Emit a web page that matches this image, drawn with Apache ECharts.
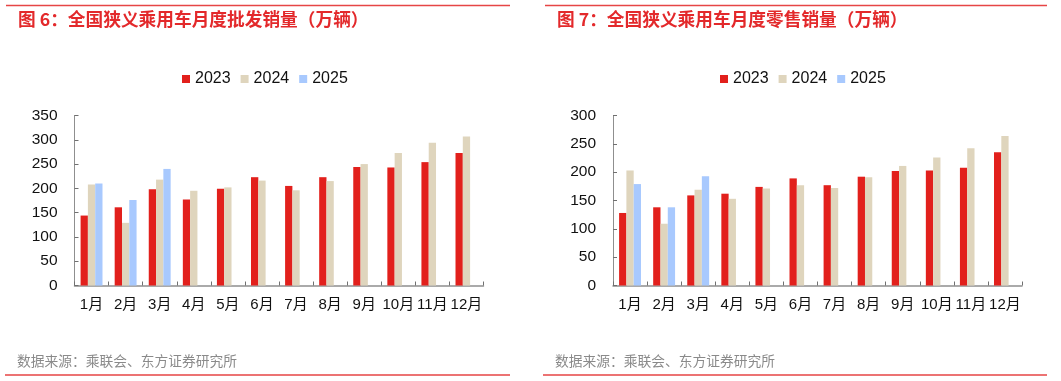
<!DOCTYPE html>
<html>
<head>
<meta charset="utf-8">
<script src="https://cdn.jsdelivr.net/npm/echarts@6/dist/echarts.min.js"></script>
<style>
html,body{margin:0;padding:0;background:#fff;}
#c{width:1061px;height:381px;}
</style>
</head>
<body>
<div id="c"></div>
<script>
const months = ['1月','2月','3月','4月','5月','6月','7月','8月','9月','10月','11月','12月'];
const yTicks = { wholesaleMax: 350, retailMax: 300, step: 50 };
const seriesNames = ['2023','2024','2025'];

// 批发销量 (万辆)
const wholesale2023 = [144, 161, 198, 177, 199, 223, 205, 223, 244, 243, 254, 273];
const wholesale2024 = [208, 129, 218, 195, 202, 216, 196, 215, 250, 273, 294, 307];
const wholesale2025 = [210, 176, 240, null, null, null, null, null, null, null, null, null];

// 零售销量 (万辆)
const retail2023 = [128, 138, 159, 162, 174, 189, 177, 192, 202, 203, 208, 235];
const retail2024 = [203, 109, 169, 153, 171, 177, 172, 191, 211, 226, 242, 264];
const retail2025 = [179, 138, 193, null, null, null, null, null, null, null, null, null];

const titleLeft = '图 6：全国狭义乘用车月度批发销量（万辆）';
const titleRight = '图 7：全国狭义乘用车月度零售销量（万辆）';
const sourceText = '数据来源：乘联会、东方证券研究所';

const colors = ['#E2201C', '#DFD5BD', '#A8C9FE'];
const FONT = '"Liberation Sans", Arial, "Noto Sans CJK SC", sans-serif';
const CJK = '"Noto Sans CJK SC", "Liberation Sans", sans-serif';

function xAx(gi) {
  return {
    type: 'category', gridIndex: gi, data: months, boundaryGap: true,
    axisLine: { lineStyle: { color: '#8f8f8f', width: 1.5 } },
    axisTick: { show: true, inside: true, length: 4, lineStyle: { color: '#707070' } },
    axisLabel: { color: '#111', fontSize: 15, fontFamily: FONT, margin: 12, interval: 0 },
    splitLine: { show: false }
  };
}
function yAx(gi, max) {
  return {
    type: 'value', gridIndex: gi, min: 0, max: max, interval: yTicks.step,
    axisLine: { show: true, lineStyle: { color: '#8f8f8f', width: 1 } },
    axisTick: { show: true, inside: true, length: 4, lineStyle: { color: '#707070' } },
    axisLabel: { color: '#111', fontSize: 15.5, fontFamily: FONT, margin: 17 },
    splitLine: { show: false }
  };
}
function bars(gi, arrs) {
  return arrs.map((d, i) => ({
    name: seriesNames[i], type: 'bar', xAxisIndex: gi, yAxisIndex: gi,
    data: d, barWidth: 7.3, barGap: '0%',
    itemStyle: { color: colors[i] }, emphasis: { disabled: true }
  }));
}
function legend(left) {
  return {
    left: left, top: 71, padding: 0, data: seriesNames, itemWidth: 8, itemHeight: 8, itemGap: 10,
    icon: 'rect', textStyle: { fontSize: 16, color: '#111', fontFamily: FONT }
  };
}
function ttl(text, left, top, size, color, weight) {
  return { text: text, left: left, top: top, padding: 0,
    textStyle: { color: color, fontSize: size, fontWeight: weight, fontFamily: CJK } };
}

const chart = echarts.init(document.getElementById('c'), null, { renderer: 'canvas' });
chart.setOption({
  animation: false,
  backgroundColor: '#fff',
  color: colors,
  title: [
    ttl(titleLeft, 18, 10, 17.7, '#E3292B', 'bold'),
    ttl(titleRight, 557, 10, 17.7, '#E3292B', 'bold'),
    ttl(sourceText, 17, 354, 13.75, '#8a8a8a', 'normal'),
    ttl(sourceText, 555, 354, 13.75, '#8a8a8a', 'normal')
  ],
  legend: [legend(182), legend(720)],
  grid: [
    { left: 74.5, top: 115.5, width: 409, height: 170 },
    { left: 613, top: 115.5, width: 409, height: 170 }
  ],
  xAxis: [xAx(0), xAx(1)],
  yAxis: [yAx(0, yTicks.wholesaleMax), yAx(1, yTicks.retailMax)],
  series: [].concat(
    bars(0, [wholesale2023, wholesale2024, wholesale2025]),
    bars(1, [retail2023, retail2024, retail2025])
  ),
  graphic: [
    { type: 'line', shape: { x1: 6, y1: 5.5, x2: 510, y2: 5.5 }, style: { stroke: '#E64545', lineWidth: 1.5 } },
    { type: 'line', shape: { x1: 545, y1: 5.5, x2: 1047, y2: 5.5 }, style: { stroke: '#E64545', lineWidth: 1.5 } },
    { type: 'line', shape: { x1: 5, y1: 375, x2: 510, y2: 375 }, style: { stroke: '#E64545', lineWidth: 1.5 } },
    { type: 'line', shape: { x1: 543, y1: 375, x2: 1047, y2: 375 }, style: { stroke: '#E64545', lineWidth: 1.5 } }
  ]
});
</script>
</body>
</html>
